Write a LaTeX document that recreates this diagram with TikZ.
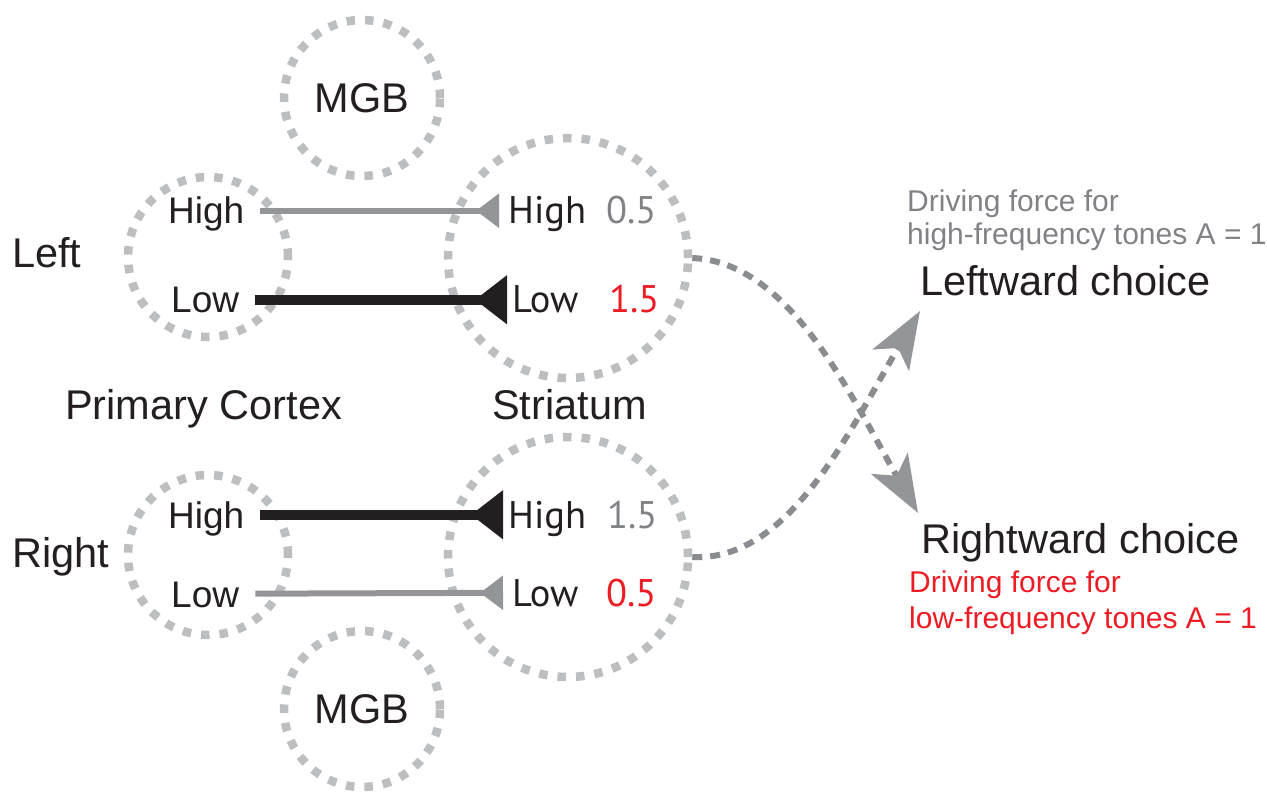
\documentclass[tikz,border=0pt]{standalone}
\usepackage{fontspec}
\setmainfont{Liberation Sans}
\newfontfamily\humanist{PT Sans}
\usetikzlibrary{arrows.meta}
\definecolor{ringgray}{HTML}{BCBEC0}
\definecolor{linegray}{HTML}{939598}
\definecolor{curvegray}{HTML}{8A8C8F}
\definecolor{txtgray}{HTML}{808285}
\definecolor{ink}{HTML}{231F20}
\definecolor{myred}{HTML}{ED1C24}
\begin{document}
\begin{tikzpicture}[x=1pt,y=-1pt,
  ring/.style={circle, draw=ringgray, line width=8.5pt, dash pattern=on 8.5pt off 10pt, inner sep=0pt,
    font=\fontsize{41.5}{45}\selectfont, text=ink},
  title/.style={font=\fontsize{41.5}{45}\selectfont, text=ink, inner sep=0pt, anchor=base west},
  clab/.style={font=\fontsize{37}{40}\selectfont, text=ink, inner sep=0pt, anchor=base west,
    text height=26.5pt, text depth=0pt},
  slab/.style={font=\humanist\fontsize{38.5}{40}\selectfont, text=ink, inner sep=0pt, anchor=base west,
    text height=26.5pt, text depth=0pt},
  note/.style={font=\fontsize{30}{33}\selectfont, inner sep=0pt, anchor=base west},
  thinconn/.style={draw=linegray, line width=6pt, shorten <=16pt, shorten >=9pt,
    -{Triangle[reversed, length=23pt, width=33pt]}},
  thickconn/.style={draw=ink, line width=10pt, shorten <=16pt, shorten >=5pt,
    -{Triangle[reversed, length=32pt, width=47pt]}},
  curveconn/.style={draw=curvegray, line width=6pt, dash pattern=on 10pt off 8pt,
    -{Stealth[length=57pt, width=42pt, inset=14pt, color=linegray]}}
]
\useasboundingbox (0,0) rectangle (1267,794);

% rings
\node[ring, minimum size=156pt] (mgbT) at (362,98) {MGB};
\node[ring, minimum size=160pt] (ctxT) at (208,257) {};
\node[ring, minimum size=240pt] (strT) at (568,258) {};
\node[ring, minimum size=160pt] (ctxB) at (208,555) {};
\node[ring, minimum size=240pt] (strB) at (568,557) {};
\node[ring, minimum size=156pt] (mgbB) at (362,709) {MGB};

% side and region labels
\node[title] (left) at (12,268) {Left};
\node[title] (right) at (12,567) {Right};
\node[title] (pc) at (65,419) {Primary Cortex};
\node[title] (str) at (492,419) {Striatum};

% cortex labels
\node[clab] (cHT) at (168,224) {High};
\node[clab] (cLT) at (171,313) {Low};
\node[clab] (cHB) at (168,528) {High};
\node[clab] (cLB) at (171,607) {Low};

% striatum labels
\node[slab] (sHT) at (508,224) {High};
\node[slab, text=txtgray] (vHT) at (606,224) {0.5};
\node[slab] (sLT) at (512,313) {Low};
\node[slab, text=myred] (vLT) at (609,313) {1.5};
\node[slab] (sHB) at (508,528) {High};
\node[slab, text=txtgray] (vHB) at (607,528) {1.5};
\node[slab] (sLB) at (512,606) {Low};
\node[slab, text=myred] (vLB) at (606,606) {0.5};

% projections
\draw[thinconn] (cHT.east) -- (sHT.west);
\draw[thickconn] (cLT.east) -- (sLT.west);
\draw[thickconn] (cHB.east) -- (sHB.west);
\draw[thinconn] (cLB.east) -- (sLB.west);

% choices
\node[note, text=txtgray] (hfA) at (907,212) {Driving force for};
\node[note, text=txtgray] (hfB) at (907,245) {high-frequency tones A = 1};
\node[title] (lc) at (920,296) {Leftward choice};
\node[title] (rc) at (921,553) {Rightward choice};
\node[note, text=myred] (lfA) at (909,592) {Driving force for};
\node[note, text=myred] (lfB) at (909,628) {low-frequency tones A = 1};

\coordinate (tipR) at (918,513);
\coordinate (tipL) at (920,311);
\draw[curveconn] (strT.east) .. controls (790,262) and (850,395) .. (tipR);
\draw[curveconn] (strB.east) .. controls (790,562) and (850,429) .. (tipL);
\end{tikzpicture}
\end{document}
